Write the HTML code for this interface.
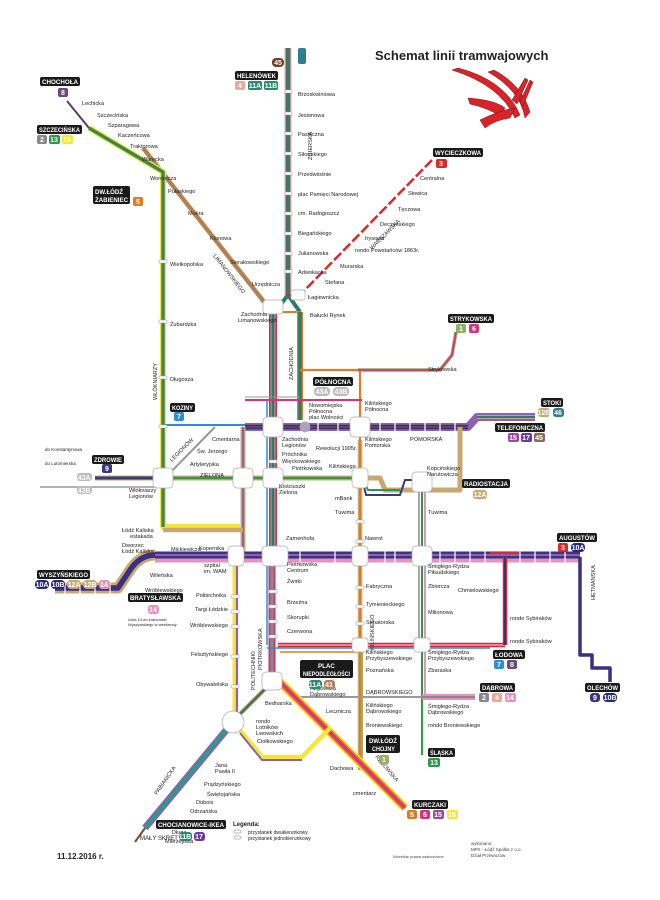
<!DOCTYPE html>
<html><head><meta charset="utf-8"><style>
html,body{margin:0;padding:0;background:#fff;}
svg{display:block;font-family:"Liberation Sans",sans-serif;}
.s{font-size:5.6px;fill:#222;}
.t{font-size:6.2px;fill:#fff;font-weight:bold;}
.n{font-size:7px;fill:#fff;font-weight:bold;text-anchor:middle;}
</style></head><body>
<svg width="660" height="900" viewBox="0 0 660 900" xmlns="http://www.w3.org/2000/svg">
<rect width="660" height="900" fill="#fff"/>
<text x="375" y="60" font-size="13" font-weight="bold" fill="#222">Schemat linii tramwajowych</text>
<g fill="#d8232a" stroke="#7a1010" stroke-width=".5">
<path d="M452 70 Q500 85 515 118 L520 115 Q505 80 458 68Z"/>
<path d="M488 72 Q520 90 525 118 L530 112 Q522 85 494 70Z"/>
<path d="M468 98 Q495 100 505 108 L500 116 Q488 108 470 104Z"/>
<path d="M480 120 Q500 110 515 108 L510 118 Q495 120 485 128Z"/>
<path d="M512 100 L525 78 L528 80 L517 104Z"/>
<path d="M520 102 L530 80 L533 82 L523 106Z"/>
</g>
<g fill="none" stroke-linejoin="round" stroke-linecap="butt">
<path d="M288 48 V295" stroke="#e9a89b" stroke-width="7"/>
<path d="M288 48 V295" stroke="#2a7b70" stroke-width="4.5"/>
<path d="M288 48 V295" stroke="#666" stroke-width="1.5"/>
<path d="M288 295 L275 312 M288 295 L300 312" stroke="#2a7b70" stroke-width="4"/>
<path d="M276 312 H300" stroke="#e07d22" stroke-width="2"/>
<path d="M273 312 V555" stroke="#d03040" stroke-width="8"/>
<path d="M273 312 V555" stroke="#888" stroke-width="5.5"/>
<path d="M273 312 V555" stroke="#2a7b70" stroke-width="2"/>
<path d="M267 400 V555" stroke="#2c8ed8" stroke-width="1.5"/>
<path d="M300 312 V420" stroke="#e07d22" stroke-width="6"/>
<path d="M300 312 V420" stroke="#2a7b70" stroke-width="3.5"/>
<path d="M300 370 H360 V770" stroke="#e07d22" stroke-width="2.2"/>
<path d="M360 440 V770" stroke="#c8a870" stroke-width="4.5"/>
<path d="M360 440 V770" stroke="#e07d22" stroke-width="2"/>
<path d="M358 370 H440 L452 355 L456 332" stroke="#8ab060" stroke-width="3.5"/>
<path d="M358 370 H440 L452 355 L456 332" stroke="#e0307a" stroke-width="1.8"/>
<path d="M245 400 H362" stroke="#e0307a" stroke-width="2"/>
<path d="M245 397 H300" stroke="#999" stroke-width="1"/>
<path d="M143 148 L272 312" stroke="#e07d22" stroke-width="4.5"/>
<path d="M143 148 L272 312" stroke="#888" stroke-width="2"/>
<path d="M67 101 L89 128" stroke="#5a3d6a" stroke-width="2"/>
<path d="M89 128 L163 172 V527 H240" stroke="#f5e63a" stroke-width="6"/>
<path d="M89 128 L163 172 V527" stroke="#2a9a4a" stroke-width="3.5"/>
<path d="M89 128 L163 172 V527" stroke="#666" stroke-width="1.3"/>
<path d="M432 160 L300 295" stroke="#d82a2a" stroke-width="2.5" stroke-dasharray="10 3"/>
<path d="M286 295 H300" stroke="#d82a2a" stroke-width="2"/>
<path d="M245 427 H468 L477 417 H535" stroke="#9060b0" stroke-width="8"/>
<path d="M245 427 H468" stroke="#3a2f80" stroke-width="4.5"/>
<path d="M245 427 H468" stroke="#6a4a3a" stroke-width="1.8"/>
<path d="M477 417 H535" stroke="#c8a870" stroke-width="4"/>
<path d="M477 417 H535" stroke="#2a7b8a" stroke-width="2"/>
<path d="M165 425 H245" stroke="#2c8ed8" stroke-width="2"/>
<path d="M165 478 L215 427" stroke="#999" stroke-width="2"/>
<path d="M95 478 H362 H380 L385 490 H460 V427" stroke="#c8a870" stroke-width="5"/>
<path d="M95 478 H362" stroke="#2a9a4a" stroke-width="2.2"/>
<path d="M95 478 H163" stroke="#3a3a7a" stroke-width="3"/>
<path d="M40 487 H163" stroke="#999" stroke-width="1.5"/>
<path d="M362 478 L366 495 H400 L405 480 H422" stroke="#3a3a7a" stroke-width="2"/>
<path d="M362 478 L368 490 H400" stroke="#2a9a4a" stroke-width="2"/>
<path d="M243 427 V557" stroke="#c8a870" stroke-width="5"/>
<path d="M243 427 V557" stroke="#9060b0" stroke-width="2"/>
<path d="M163 530 H243" stroke="#c8a870" stroke-width="4.5"/>
<path d="M155 557 H580" stroke="#e890c0" stroke-width="11"/>
<path d="M155 555 H580" stroke="#3a2f80" stroke-width="7"/>
<path d="M155 555 H580" stroke="#9060b0" stroke-width="2.2"/>
<path d="M155 555 Q140 555 130 570 L118 588 H55" stroke="#c8a870" stroke-width="11"/>
<path d="M155 555 Q140 555 130 570 L118 588 H55" stroke="#3a2f80" stroke-width="5.5"/>
<path d="M490 553 H520" stroke="#d82a2a" stroke-width="2"/>
<path d="M235 557 V712" stroke="#f5e63a" stroke-width="5"/>
<path d="M237 557 V712" stroke="#9060b0" stroke-width="2.2"/>
<path d="M272 555 V678" stroke="#d03070" stroke-width="7"/>
<path d="M272 555 V678" stroke="#888" stroke-width="3.5"/>
<path d="M267 555 V645" stroke="#2c8ed8" stroke-width="1.5"/>
<path d="M278 645 H505" stroke="#d82a2a" stroke-width="4.5"/>
<path d="M278 645 H505" stroke="#e890c0" stroke-width="1.8"/>
<path d="M267 648 H490" stroke="#2c8ed8" stroke-width="1.5"/>
<path d="M280 652 H360" stroke="#e07d22" stroke-width="1.5"/>
<path d="M505 557 V645" stroke="#d82a2a" stroke-width="4.5"/>
<path d="M505 557 V645" stroke="#3a2f80" stroke-width="2"/>
<path d="M580 557 V655 H592 V668 H610 V682" stroke="#3a2f80" stroke-width="3.5"/>
<path d="M422 480 V755" stroke="#2a9a4a" stroke-width="2"/>
<path d="M425 480 V697" stroke="#e890c0" stroke-width="2"/>
<path d="M419 490 V645" stroke="#888" stroke-width="1.5"/>
<path d="M290 697 H422" stroke="#999" stroke-width="2"/>
<path d="M422 697 H475" stroke="#e890c0" stroke-width="6"/>
<path d="M422 697 H475" stroke="#888" stroke-width="2"/>
<path d="M362 645 V760" stroke="#9ab060" stroke-width="2"/>
<path d="M280 682 L405 808" stroke="#f5e63a" stroke-width="9"/>
<path d="M280 682 L405 808" stroke="#e07d22" stroke-width="6"/>
<path d="M280 682 L405 808" stroke="#e0307a" stroke-width="3"/>
<path d="M240 714 L270 684" stroke="#e07d22" stroke-width="4"/>
<path d="M240 714 L270 684" stroke="#2a7b70" stroke-width="2"/>
<path d="M240 730 L262 757 H302 L330 728" stroke="#f5e63a" stroke-width="4.5"/>
<path d="M240 733 L262 760 H302" stroke="#9060b0" stroke-width="2"/>
<path d="M228 728 L145 828" stroke="#9060b0" stroke-width="7"/>
<path d="M228 728 L145 828" stroke="#2a9a8a" stroke-width="3.5"/>
<path d="M145 828 L135 842" stroke="#7a4a2a" stroke-width="2"/>
</g>
<!-- stop ticks on Pomorska/Mickiewicza -->
<g stroke="#fff" stroke-width="1.2">
<path d="M318 422 V432 M338 422 V432 M380 422 V432 M395 422 V432 M410 422 V432 M425 422 V432 M440 422 V432 M455 422 V432"/>
<path d="M300 550 V563 M335 550 V563 M385 550 V563 M395 550 V563 M440 550 V563 M455 550 V563 M470 550 V563 M485 550 V563 M520 550 V563 M535 550 V563 M550 550 V563 M565 550 V563"/>
<path d="M65 582 V595 M80 582 V595 M95 582 V595 M110 582 V595"/>
</g>
<g fill="#fff" stroke="#aaa" stroke-width=".7">
<rect x="263" y="300" width="20" height="14" rx="3"/>
<rect x="291" y="290" width="14" height="10" rx="2"/>
<rect x="263" y="417" width="20" height="20" rx="4"/>
<rect x="350" y="417" width="20" height="20" rx="4"/>
<rect x="263" y="468" width="20" height="20" rx="4"/>
<rect x="233" y="468" width="20" height="20" rx="4"/>
<rect x="352" y="468" width="16" height="20" rx="4"/>
<rect x="153" y="468" width="20" height="20" rx="4"/>
<rect x="412" y="472" width="20" height="20" rx="4"/>
<rect x="228" y="546" width="16" height="20" rx="4"/>
<rect x="262" y="546" width="26" height="20" rx="4"/>
<rect x="352" y="546" width="16" height="20" rx="4"/>
<rect x="412" y="546" width="20" height="20" rx="4"/>
<rect x="262" y="672" width="20" height="18" rx="4"/>
<rect x="352" y="638" width="16" height="14" rx="3"/>
<rect x="414" y="638" width="16" height="14" rx="3"/>
<circle cx="233" cy="722" r="11"/>
<circle cx="305" cy="427" r="5" fill="#b0a0c0"/>
</g>
<g fill="#fff" stroke="#999" stroke-width=".5">
<rect x="285" y="90" width="7" height="3"/><rect x="285" y="112" width="7" height="3"/><rect x="285" y="132" width="7" height="3"/><rect x="285" y="152" width="7" height="3"/><rect x="285" y="172" width="7" height="3"/><rect x="285" y="192" width="7" height="3"/><rect x="285" y="212" width="7" height="3"/><rect x="285" y="232" width="7" height="3"/><rect x="285" y="252" width="7" height="3"/><rect x="285" y="270" width="7" height="3"/>
<rect x="159" y="260" width="8" height="3"/><rect x="159" y="320" width="8" height="3"/><rect x="159" y="376" width="8" height="3"/><rect x="159" y="425" width="8" height="3"/>
<rect x="269" y="460" width="8" height="3"/><rect x="269" y="590" width="8" height="3"/><rect x="269" y="605" width="8" height="3"/><rect x="269" y="620" width="8" height="3"/><rect x="269" y="635" width="8" height="3"/>
<rect x="231" y="595" width="8" height="3"/><rect x="231" y="610" width="8" height="3"/><rect x="231" y="625" width="8" height="3"/><rect x="231" y="655" width="8" height="3"/><rect x="231" y="685" width="8" height="3"/>
<rect x="356" y="586" width="8" height="3"/><rect x="356" y="605" width="8" height="3"/><rect x="356" y="622" width="8" height="3"/><rect x="356" y="520" width="8" height="3"/><rect x="356" y="540" width="8" height="3"/>
</g>
<g class="s">
<text x="82" y="105">Lechicka</text><text x="97" y="117">Szczecińska</text><text x="108" y="127">Szparagowa</text><text x="118" y="137">Kaczeńcowa</text><text x="130" y="148">Traktorowa</text><text x="142" y="161">Warecka</text><text x="150" y="180">Woronicza</text><text x="168" y="193">Pułaskiego</text><text x="188" y="215">Mokra</text><text x="210" y="240">Klonowa</text><text x="230" y="264">Sierakowskiego</text><text x="252" y="286">Urzędnicza</text>
<text x="298" y="96">Brzoskwiniowa</text><text x="298" y="117">Jesionowa</text><text x="298" y="136">Pasieczna</text><text x="298" y="156">Sikorskiego</text><text x="298" y="176">Przedwiośnie</text><text x="298" y="196">plac Pamięci Narodowej</text><text x="298" y="215">cm. Radogoszcz</text><text x="298" y="235">Biegańskiego</text><text x="298" y="255">Julianowska</text><text x="298" y="274">Adwokacka</text>
<text x="420" y="180">Centralna</text><text x="408" y="195">Słowica</text><text x="398" y="211">Tęczowa</text><text x="380" y="226">Deczyńskiego</text><text x="365" y="240">Irysowa</text><text x="355" y="252">rondo Powstańców 1863r.</text><text x="340" y="268">Murarska</text><text x="325" y="284">Stefana</text><text x="308" y="299">Łagiewnicka</text>
<text x="310" y="317">Bałucki Rynek</text><text x="241" y="316">Zachodnia</text><text x="238" y="322">Limanowskiego</text>
<text x="170" y="266">Wielkopolska</text><text x="170" y="326">Żubardzka</text><text x="170" y="381">Długosza</text>
<text x="428" y="371">Strykowska</text><text x="365" y="405">Kilińskiego</text><text x="365" y="411">Północna</text>
<text x="309" y="407">Nowomiejska</text><text x="309" y="413">Północna</text><text x="309" y="419">plac Wolności</text>
<text x="212" y="441">Cmentarna</text><text x="197" y="453">Św. Jerzego</text><text x="190" y="466">Artyleryjska</text><text x="200" y="477">ZIELONA</text>
<text x="282" y="441">Zachodnia</text><text x="282" y="447">Legionów</text><text x="282" y="456">Próchnika</text><text x="282" y="463">Więckowskiego</text><text x="292" y="470">Piotrkowska</text><text x="316" y="450">Rewolucji 1905r.</text><text x="329" y="468">Kilińskiego</text><text x="365" y="441">Kilińskiego</text><text x="365" y="447">Pomorska</text><text x="410" y="441">POMORSKA</text>
<text x="279" y="488">Kościuszki</text><text x="279" y="494">Zielona</text><text x="335" y="500">mBank</text><text x="335" y="514">Tuwima</text><text x="365" y="540">Nawrot</text><text x="428" y="514">Tuwima</text><text x="427" y="470">Kopcińskiego</text><text x="427" y="476">Narutowicza</text>
<text x="129" y="492">Włókniarzy</text><text x="129" y="498">Legionów</text><text x="122" y="532">Łódź Kaliska</text><text x="130" y="538">estakada</text><text x="122" y="547">Dworzec</text><text x="122" y="553">Łódź Kaliska</text><text x="171" y="551">Mickiewicza</text><text x="199" y="550">Kopernika</text><text x="286" y="540">Zamenhofa</text>
<text x="204" y="567">szpital</text><text x="204" y="573">im. WAM</text><text x="196" y="597">Politechnika</text><text x="195" y="611">Targi Łódzkie</text><text x="190" y="627">Wróblewskiego</text><text x="191" y="656">Felsztyńskiego</text><text x="196" y="686">Obywatelska</text>
<text x="287" y="566">Piotrkowska</text><text x="287" y="572">Centrum</text><text x="287" y="583">Żwirki</text><text x="287" y="604">Brzeźna</text><text x="287" y="619">Skorupki</text><text x="287" y="633">Czerwona</text>
<text x="366" y="588">Fabryczna</text><text x="366" y="606">Tymienieckiego</text><text x="366" y="624">Senatorska</text>
<text x="428" y="568">Śmigłego-Rydza</text><text x="428" y="574">Piłsudskiego</text><text x="428" y="588">Zbiorcza</text><text x="428" y="614">Milionowa</text><text x="458" y="592">Chmielowskiego</text><text x="510" y="620">rondo Sybiraków</text><text x="510" y="643">rondo Sybiraków</text>
<text x="366" y="654">Kilińskiego</text><text x="366" y="660">Przybyszewskiego</text><text x="366" y="672">Poznańska</text><text x="366" y="694">DĄBROWSKIEGO</text><text x="366" y="707">Kilińskiego</text><text x="366" y="713">Dąbrowskiego</text><text x="366" y="727">Broniewskiego</text>
<text x="428" y="654">Śmigłego-Rydza</text><text x="428" y="660">Przybyszewskiego</text><text x="428" y="672">Zbaraska</text><text x="428" y="708">Śmigłego-Rydza</text><text x="428" y="714">Dąbrowskiego</text><text x="428" y="727">rondo Broniewskiego</text>
<text x="310" y="690">Rzgowska</text><text x="310" y="696">Dąbrowskiego</text><text x="326" y="713">Lecznicza</text><text x="265" y="705">Bednarska</text><text x="256" y="723">rondo</text><text x="256" y="729">Lotników</text><text x="256" y="735">Lwowskich</text><text x="257" y="743">Ciołkowskiego</text>
<text x="330" y="770">Dachowa</text><text x="353" y="795">cmentarz</text>
<text x="215" y="767">Jana</text><text x="215" y="773">Pawła II</text><text x="204" y="786">Prądzyńskiego</text><text x="207" y="796">Świętojańska</text><text x="196" y="804">Dubois</text><text x="190" y="813">Odrzańska</text><text x="180" y="825">Chocianowicka</text><text x="172" y="834">Długa</text><text x="165" y="843">Mierzejowa</text>
<text x="150" y="577">Wileńska</text><text x="145" y="592">Wróblewskiego</text>
<text x="45" y="451" font-size="4.5">do Konstantynowa</text><text x="45" y="465" font-size="4.5">do Lutomierska</text>
</g>
<g class="s" font-size="6">
<text transform="translate(312,160) rotate(-90)">ZGIERSKA</text>
<text transform="translate(293,380) rotate(-90)">ZACHODNIA</text>
<text transform="translate(157,400) rotate(-90)">WŁÓKNIARZY</text>
<text transform="translate(372,250) rotate(-45)">WARSZAWSKA</text>
<text transform="translate(213,256) rotate(52)">LIMANOWSKIEGO</text>
<text transform="translate(172,462) rotate(-45)">LEGIONÓW</text>
<text transform="translate(255,690) rotate(-90)">POLITECHNIKI</text>
<text transform="translate(262,670) rotate(-90)">PIOTRKOWSKA</text>
<text transform="translate(374,650) rotate(-90)">KILIŃSKIEGO</text>
<text transform="translate(595,600) rotate(-90)">HETMAŃSKA</text>
<text transform="translate(375,757) rotate(50)">RZGOWSKA</text>
<text transform="translate(157,795) rotate(-55)">PABIANICKA</text>
</g>
<g>
<rect x="40" y="77" width="40" height="9" rx="2" fill="#1a1a1a"/><text class="t" x="42" y="84" textLength="36" lengthAdjust="spacingAndGlyphs">CHOCHOŁA</text>
<rect x="58" y="88" width="10" height="9" rx="2" fill="#6a4a7a"/><text class="n" x="63" y="95">8</text>
<rect x="37" y="125" width="45" height="9" rx="2" fill="#1a1a1a"/><text class="t" x="39" y="132" textLength="41" lengthAdjust="spacingAndGlyphs">SZCZECIŃSKA</text>
<rect x="37" y="135" width="10" height="9" rx="2" fill="#888"/><text class="n" x="42" y="142">2</text>
<rect x="49" y="135" width="11" height="9" rx="2" fill="#2a9a4a"/><text class="n" x="54" y="142">13</text>
<rect x="62" y="135" width="11" height="9" rx="2" fill="#f5e63a"/><text class="n" x="67" y="142">16</text>
<rect x="93" y="186" width="37" height="18" rx="2" fill="#1a1a1a"/><text class="t" x="95" y="194" textLength="28" lengthAdjust="spacingAndGlyphs">DW.ŁÓDŹ</text><text class="t" x="95" y="202" textLength="33" lengthAdjust="spacingAndGlyphs">ŻABIENIEC</text>
<rect x="133" y="197" width="10" height="9" rx="2" fill="#e07d22"/><text class="n" x="138" y="204">5</text>
<rect x="235" y="71" width="43" height="9" rx="2" fill="#1a1a1a"/><text class="t" x="237" y="78" textLength="39" lengthAdjust="spacingAndGlyphs">HELENÓWEK</text>
<rect x="235" y="81" width="10" height="9" rx="2" fill="#e9a89b"/><text class="n" x="240" y="88">4</text>
<rect x="248" y="81" width="14" height="9" rx="2" fill="#2a8a70"/><text class="n" x="255" y="88" font-size="6">11A</text>
<rect x="264" y="81" width="14" height="9" rx="2" fill="#2a8a70"/><text class="n" x="271" y="88" font-size="6">11B</text>
<rect x="272" y="58" width="12" height="9" rx="4" fill="#7a3a2a"/><text class="n" x="278" y="65" font-size="6">45</text>
<rect x="298" y="48" width="8" height="16" rx="2" fill="#2a8090"/>
<rect x="433" y="148" width="50" height="9" rx="2" fill="#1a1a1a"/><text class="t" x="435" y="155" textLength="46" lengthAdjust="spacingAndGlyphs">WYCIECZKOWA</text>
<rect x="436" y="159" width="11" height="9" rx="2" fill="#d82a2a"/><text class="n" x="441" y="166">3</text>
<rect x="448" y="314" width="46" height="9" rx="2" fill="#1a1a1a"/><text class="t" x="450" y="321" textLength="42" lengthAdjust="spacingAndGlyphs">STRYKOWSKA</text>
<rect x="456" y="324" width="10" height="9" rx="2" fill="#8ab060"/><text class="n" x="461" y="331">1</text>
<rect x="469" y="324" width="10" height="9" rx="2" fill="#e0307a"/><text class="n" x="474" y="331">6</text>
<rect x="313" y="377" width="40" height="9" rx="2" fill="#1a1a1a"/><text class="t" x="315" y="384" textLength="36" lengthAdjust="spacingAndGlyphs">PÓŁNOCNA</text>
<rect x="314" y="387" width="16" height="9" rx="4" fill="#bbb"/><text class="n" x="322" y="394" font-size="6">43A</text>
<rect x="333" y="387" width="16" height="9" rx="4" fill="#bbb"/><text class="n" x="341" y="394" font-size="6">43B</text>
<rect x="170" y="403" width="25" height="9" rx="2" fill="#1a1a1a"/><text class="t" x="172" y="410" textLength="21" lengthAdjust="spacingAndGlyphs">KOZINY</text>
<rect x="174" y="412" width="10" height="9" rx="2" fill="#2c8ed8"/><text class="n" x="179" y="419">7</text>
<rect x="92" y="455" width="32" height="9" rx="2" fill="#1a1a1a"/><text class="t" x="94" y="462" textLength="28" lengthAdjust="spacingAndGlyphs">ZDROWIE</text>
<rect x="102" y="464" width="10" height="9" rx="2" fill="#3a3a7a"/><text class="n" x="107" y="471">9</text>
<rect x="77" y="473" width="15" height="8" rx="3" fill="#bbb"/><text class="n" x="84" y="480" font-size="5.5">43A</text>
<rect x="77" y="486" width="15" height="8" rx="3" fill="#bbb"/><text class="n" x="84" y="493" font-size="5.5">43B</text>
<rect x="541" y="398" width="22" height="9" rx="2" fill="#1a1a1a"/><text class="t" x="543" y="405" textLength="18" lengthAdjust="spacingAndGlyphs">STOKI</text>
<rect x="538" y="408" width="12" height="9" rx="3" fill="#c8a870"/><text class="n" x="544" y="415" font-size="5.5">12B</text>
<rect x="553" y="408" width="11" height="9" rx="3" fill="#2a7b8a"/><text class="n" x="558" y="415" font-size="6">46</text>
<rect x="495" y="423" width="50" height="9" rx="2" fill="#1a1a1a"/><text class="t" x="497" y="430" textLength="46" lengthAdjust="spacingAndGlyphs">TELEFONICZNA</text>
<rect x="508" y="433" width="11" height="9" rx="2" fill="#9a4a9a"/><text class="n" x="513" y="440" font-size="6">15</text>
<rect x="521" y="433" width="11" height="9" rx="2" fill="#6a3aa0"/><text class="n" x="526" y="440" font-size="6">17</text>
<rect x="534" y="433" width="11" height="9" rx="2" fill="#8a6a5a"/><text class="n" x="539" y="440" font-size="6">45</text>
<rect x="462" y="479" width="48" height="9" rx="2" fill="#1a1a1a"/><text class="t" x="464" y="486" textLength="44" lengthAdjust="spacingAndGlyphs">RADIOSTACJA</text>
<rect x="473" y="490" width="14" height="9" rx="3" fill="#c8a870"/><text class="n" x="480" y="497" font-size="6">12A</text>
<rect x="557" y="533" width="40" height="9" rx="2" fill="#1a1a1a"/><text class="t" x="559" y="540" textLength="36" lengthAdjust="spacingAndGlyphs">AUGUSTÓW</text>
<rect x="558" y="543" width="10" height="9" rx="2" fill="#d82a2a"/><text class="n" x="563" y="550">3</text>
<rect x="571" y="543" width="14" height="9" rx="4" fill="#2a2a7a"/><text class="n" x="578" y="550" font-size="6">10A</text>
<rect x="37" y="570" width="53" height="9" rx="2" fill="#1a1a1a"/><text class="t" x="39" y="577" textLength="49" lengthAdjust="spacingAndGlyphs">WYSZYŃSKIEGO</text>
<rect x="35" y="580" width="14" height="9" rx="4" fill="#2a2a7a"/><text class="n" x="42" y="587" font-size="6">10A</text>
<rect x="51" y="580" width="14" height="9" rx="4" fill="#2a2a7a"/><text class="n" x="58" y="587" font-size="6">10B</text>
<rect x="67" y="580" width="14" height="9" rx="4" fill="#c8a870"/><text class="n" x="74" y="587" font-size="6">12A</text>
<rect x="83" y="580" width="14" height="9" rx="4" fill="#c8a870"/><text class="n" x="90" y="587" font-size="6">12B</text>
<rect x="99" y="580" width="11" height="9" rx="3" fill="#e890c0"/><text class="n" x="104" y="587" font-size="6">14</text>
<rect x="128" y="593" width="55" height="9" rx="2" fill="#1a1a1a"/><text class="t" x="130" y="600" textLength="51" lengthAdjust="spacingAndGlyphs">BRATYSŁAWSKA</text>
<rect x="148" y="605" width="11" height="9" rx="3" fill="#e890c0"/><text class="n" x="153" y="612" font-size="6">14</text>
<text x="128" y="621" font-size="4" fill="#222">Linia 14 do krańcówki</text><text x="128" y="626" font-size="4" fill="#222">Wyszyńskiego w weekendy</text>
<rect x="300" y="660" width="53" height="18" rx="2" fill="#1a1a1a"/><text class="t" x="318" y="668">PLAC</text><text class="t" x="303" y="676" textLength="47" lengthAdjust="spacingAndGlyphs">NIEPODLEGŁOŚCI</text>
<rect x="309" y="680" width="13" height="9" rx="3" fill="#2a8a70"/><text class="n" x="315" y="687" font-size="6">11A</text>
<rect x="324" y="680" width="11" height="9" rx="3" fill="#b08060"/><text class="n" x="329" y="687" font-size="6">41</text>
<rect x="366" y="735" width="34" height="18" rx="2" fill="#1a1a1a"/><text class="t" x="369" y="743" textLength="28" lengthAdjust="spacingAndGlyphs">DW.ŁÓDŹ</text><text class="t" x="372" y="751" textLength="23" lengthAdjust="spacingAndGlyphs">CHOJNY</text>
<rect x="379" y="755" width="10" height="9" rx="2" fill="#9ab060"/><text class="n" x="384" y="762">1</text>
<rect x="428" y="748" width="27" height="9" rx="2" fill="#1a1a1a"/><text class="t" x="430" y="755" textLength="23" lengthAdjust="spacingAndGlyphs">ŚLĄSKA</text>
<rect x="428" y="758" width="12" height="9" rx="2" fill="#2a9a4a"/><text class="n" x="434" y="765" font-size="6">13</text>
<rect x="493" y="650" width="32" height="9" rx="2" fill="#1a1a1a"/><text class="t" x="495" y="657" textLength="28" lengthAdjust="spacingAndGlyphs">ŁODOWA</text>
<rect x="494" y="660" width="10" height="9" rx="2" fill="#2c8ed8"/><text class="n" x="499" y="667">7</text>
<rect x="507" y="660" width="10" height="9" rx="2" fill="#6a4a7a"/><text class="n" x="512" y="667">8</text>
<rect x="480" y="683" width="35" height="9" rx="2" fill="#1a1a1a"/><text class="t" x="482" y="690" textLength="31" lengthAdjust="spacingAndGlyphs">DĄBROWA</text>
<rect x="479" y="693" width="10" height="9" rx="2" fill="#888"/><text class="n" x="484" y="700">2</text>
<rect x="492" y="693" width="10" height="9" rx="2" fill="#e9a89b"/><text class="n" x="497" y="700">4</text>
<rect x="505" y="693" width="11" height="9" rx="2" fill="#e890c0"/><text class="n" x="510" y="700" font-size="6">14</text>
<rect x="585" y="683" width="35" height="9" rx="2" fill="#1a1a1a"/><text class="t" x="587" y="690" textLength="31" lengthAdjust="spacingAndGlyphs">OLECHÓW</text>
<rect x="590" y="693" width="10" height="9" rx="3" fill="#3a3a7a"/><text class="n" x="595" y="700">9</text>
<rect x="603" y="693" width="14" height="9" rx="4" fill="#2a2a7a"/><text class="n" x="610" y="700" font-size="6">10B</text>
<rect x="412" y="800" width="36" height="9" rx="2" fill="#1a1a1a"/><text class="t" x="414" y="807" textLength="32" lengthAdjust="spacingAndGlyphs">KURCZAKI</text>
<rect x="407" y="810" width="10" height="9" rx="2" fill="#e07d22"/><text class="n" x="412" y="817">5</text>
<rect x="420" y="810" width="10" height="9" rx="2" fill="#e0307a"/><text class="n" x="425" y="817">6</text>
<rect x="433" y="810" width="11" height="9" rx="2" fill="#9a4a9a"/><text class="n" x="438" y="817" font-size="6">15</text>
<rect x="447" y="810" width="11" height="9" rx="2" fill="#f5e63a"/><text class="n" x="452" y="817" font-size="6">16</text>
<rect x="156" y="820" width="70" height="9" rx="2" fill="#1a1a1a"/><text class="t" x="158" y="827" textLength="66" lengthAdjust="spacingAndGlyphs">CHOCIANOWICE-IKEA</text>
<text x="140" y="840" font-size="6" fill="#222">MAŁY SKRĘT</text>
<rect x="179" y="832" width="13" height="9" rx="3" fill="#2a8a70"/><text class="n" x="185" y="839" font-size="6">11B</text>
<rect x="194" y="832" width="11" height="9" rx="3" fill="#6a3aa0"/><text class="n" x="199" y="839" font-size="6">17</text>
</g>
<text x="233" y="826" font-size="6" font-weight="bold" fill="#222">Legenda:</text>
<rect x="234" y="830" width="7" height="3" rx="1" fill="#fff" stroke="#777" stroke-width=".5"/><text x="248" y="834" font-size="5" fill="#222">przystanek dwukierunkowy</text>
<rect x="234" y="836" width="7" height="3" rx="1" fill="#fff" stroke="#777" stroke-width=".5"/><text x="248" y="840" font-size="5" fill="#222">przystanek jednokierunkowy</text>
<text x="57" y="859" font-size="8" font-weight="bold" fill="#222">11.12.2016 r.</text>
<text x="393" y="858" font-size="4" fill="#444">Wszelkie prawa zastrzeżone</text>
<text x="471" y="845" font-size="4.5" fill="#444">wykonano:</text><text x="471" y="851" font-size="4.5" fill="#444">MPK - Łódź Spółka z o.o.</text><text x="471" y="857" font-size="4.5" fill="#444">Dział Przewozów</text>
</svg>
</body></html>
